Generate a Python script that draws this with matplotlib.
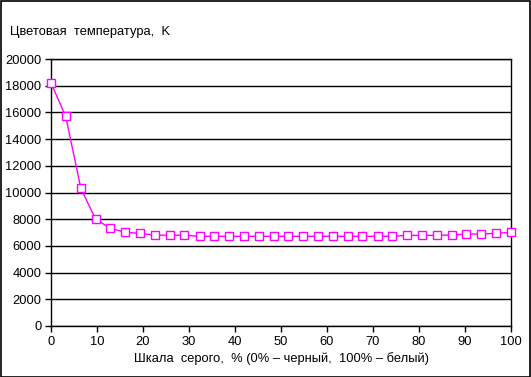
import matplotlib.pyplot as plt
from matplotlib.patches import Rectangle

plt.rcParams['font.family'] = ['Liberation Sans', 'DejaVu Sans']

# grey level, %
gray = [0, 3.2, 6.5, 9.7, 12.9, 16.1, 19.4, 22.6, 25.8, 29.0, 32.3, 35.5,
        38.7, 41.9, 45.2, 48.4, 51.6, 54.8, 58.1, 61.3, 64.5, 67.7, 71.0,
        74.2, 77.4, 80.6, 83.9, 87.1, 90.3, 93.5, 96.8, 100]
# colour temperature, K
temp = [18200, 15700, 10300, 8000, 7320, 7020, 6940, 6800, 6800, 6800,
        6720, 6720, 6720, 6720, 6720, 6720, 6720, 6720, 6720, 6720, 6720,
        6720, 6720, 6720, 6790, 6790, 6790, 6810, 6890, 6890, 6940, 7020]

yticks = list(range(0, 20001, 2000))
xticks = list(range(0, 101, 10))

fs = 9.3

fig = plt.figure(figsize=(5.31, 3.77), dpi=100)
ax = fig.add_axes([51 / 531, 1 - 326 / 377, 460 / 531, 267 / 377])

ax.plot(gray, temp, color='#ff00ff', lw=1, marker='s', markersize=6,
        markerfacecolor='white', markeredgecolor='#ff00ff', markeredgewidth=1,
        clip_on=False, zorder=3)

ax.set_xlim(0, 100)
ax.set_ylim(0, 20000)
ax.set_xticks(xticks)
ax.set_yticks(yticks)
ax.yaxis.grid(True, color='black', lw=1)
ax.set_axisbelow(True)
ax.tick_params(direction='out', length=4, width=1, color='black', labelsize=fs, pad=3)
for s in ax.spines.values():
    s.set_color('black')
    s.set_linewidth(1)

ax.set_xlabel('Шкала  серого,  % (0% – черный,  100% – белый)', fontsize=fs, labelpad=3)
fig.text(10 / 531, 1 - 32 / 377, 'Цветовая  температура,  K', fontsize=fs, va='center', ha='left')

fig.patches.append(Rectangle((0.5 / 531, 0.5 / 377), 529.5 / 531, 375.5 / 377,
                             transform=fig.transFigure, fill=False,
                             edgecolor='black', lw=1.2))

fig.savefig('out.png', dpi=100)
